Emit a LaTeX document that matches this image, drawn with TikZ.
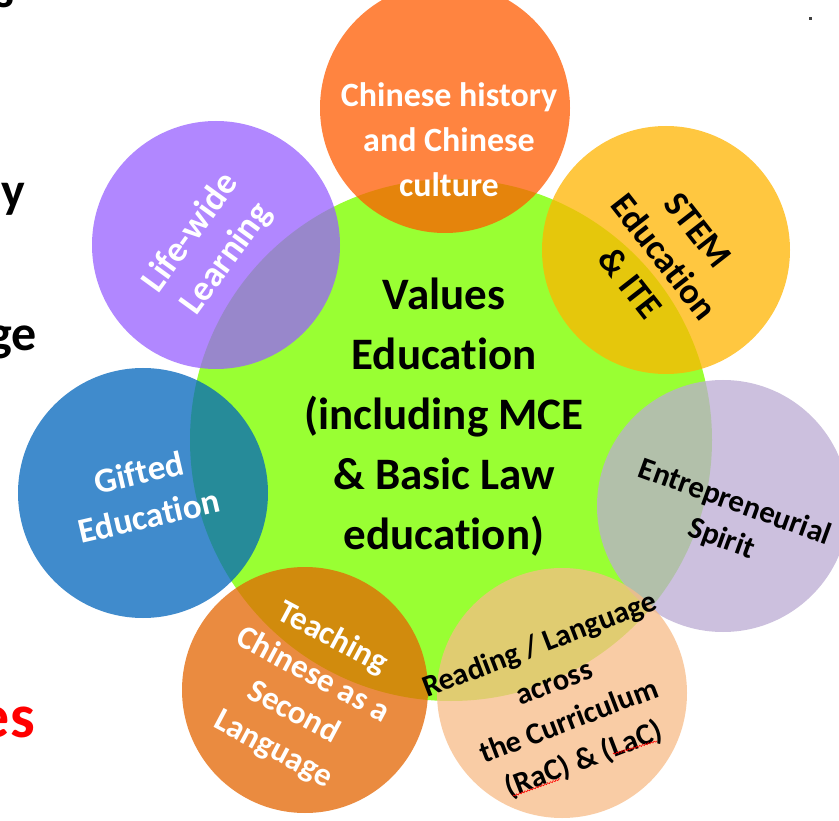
\documentclass[tikz,border=0pt]{standalone}
\usepackage{fontspec}
\setmainfont{Carlito}[Ligatures={NoCommon,NoRare},RawFeature=-calt]
\usetikzlibrary{decorations.pathmorphing}
\definecolor{vgreen}{RGB}{153,255,51}
\definecolor{corange}{RGB}{255,92,0}
\definecolor{cyellow}{RGB}{255,181,0}
\definecolor{cpurple}{RGB}{152,96,255}
\definecolor{clav}{RGB}{187,171,211}
\definecolor{cblue}{RGB}{0,101,188}
\definecolor{cpeach}{RGB}{248,188,135}
\definecolor{cteach}{RGB}{228,101,1}
\begin{document}
\begin{tikzpicture}[x=1pt,y=-1pt,
  bubble/.style={circle, inner sep=0pt, minimum size=#1, fill opacity=0.75, draw=none},
  lbl/.style 2 args={align=center, inner sep=0pt, font=\fontsize{#1}{#2}\selectfont\bfseries},
  wavy/.style={draw=red, line width=0.6pt, decorate, decoration={snake, amplitude=0.8pt, segment length=3pt}}]
\useasboundingbox (0,0) rectangle (839,821);
\fill[white] (0,0) rectangle (839,821);

% central circle
\node[circle, inner sep=0pt, minimum size=522pt, fill=vgreen] (core) at (451,440) {};

% satellites
\node[bubble=250pt, fill=corange] (hist) at (445,108) {};
\node[bubble=248pt, fill=cyellow] (stem) at (666,250) {};
\node[bubble=252pt, fill=clav] (entre) at (723,506) {};
\node[bubble=250pt, fill=cpeach] (read) at (562,693) {};
\node[bubble=246pt, fill=cteach] (teach) at (305,690) {};
\node[bubble=250pt, fill=cblue] (gift) at (143,493) {};
\node[bubble=248pt, fill=cpurple] (life) at (216,245) {};

% texts
\node[lbl={45}{60}] (coret) at (444,417) {Values\\Education\\(including MCE\\\& Basic Law\\education)};
\node[lbl={34}{45}, text=white] (histt) at (449,140) {Chinese history\\and Chinese\\culture};
\node[lbl={36}{43}, rotate=-52] (stemt) at (664,257) {STEM\\Education\\\& ITE};
\node[lbl={36}{44}, text=white, rotate=54] (lifet) at (209,246) {Life-wide\\Learning};
\node[lbl={31}{39}, rotate=-20] (entret) at (728,521) {Entrepreneurial\\Spirit};
\node[lbl={35}{45}, text=white, rotate=13] (giftt) at (144,494) {Gifted\\Education};
\node[lbl={30.5}{41}, rotate=21] (readt) at (562,703) {Reading / Language\\across\\the Curriculum\\(RaC) \& (LaC)};
\node[lbl={33}{42}, text=white, rotate=-28] (teacht) at (303,694) {Teaching\\Chinese as a\\Second\\Language};

% spell-check marks
\coordinate (w1a) at (513,796); \coordinate (w1b) at (560,779);
\coordinate (w2a) at (613,754); \coordinate (w2b) at (657,741);
\draw[wavy] (w1a) -- (w1b);
\draw[wavy] (w2a) -- (w2b);

% cut-off slide text at left
\node[anchor=base east, inner sep=0pt, font=\fontsize{50}{60}\selectfont\bfseries] (frag0) at (15,8) {s};
\node[anchor=base east, inner sep=0pt, font=\fontsize{50}{60}\selectfont\bfseries] (frag1) at (25,208) {y};
\node[anchor=base east, inner sep=0pt, font=\fontsize{50}{60}\selectfont\bfseries] (frag2) at (37,351) {ge};
\node[anchor=base east, inner sep=0pt, text=red, font=\fontsize{62}{70}\selectfont\bfseries] (frag3) at (35,737) {es};

% small dot at top right
\fill[black!75] (808.5,17.5) rectangle (811.5,20.5);
\end{tikzpicture}
\end{document}
